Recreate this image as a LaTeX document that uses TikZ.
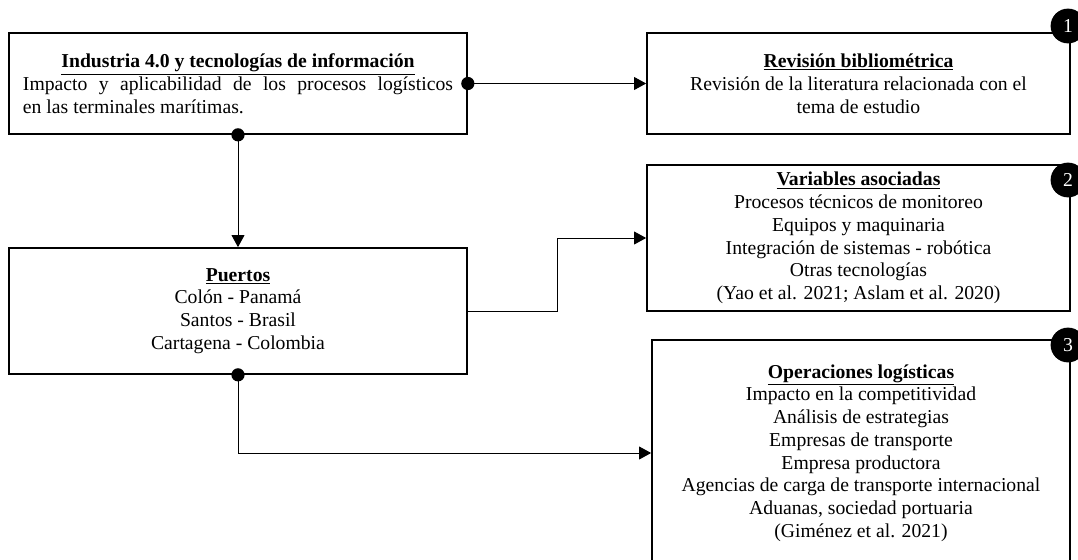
\documentclass[tikz,border=0pt]{standalone}
\usepackage{fontspec}
\setmainfont{Liberation Serif}
\usetikzlibrary{arrows.meta}

\begin{document}
\begin{tikzpicture}[
    box/.style={draw, rectangle, line width=1.2pt, font=\fontsize{14}{16.2}\selectfont, align=center},
    conn/.style={line width=0.7pt, -{Triangle[length=0.3cm, width=0.32cm]}},
    badge/.style={circle, fill=black, text=white, minimum size=0.87cm, inner sep=0pt, font=\fontsize{14}{16}\selectfont}
]

    % Page size
    \useasboundingbox[fill=white] (0,0) rectangle (26.95,-14);

    % Draw the left boxes
    \node[box, minimum width=11.45cm, minimum height=2.525cm, text width=10.75cm, align=justify] (industria) at (5.95,-2.0875) {{\centering\textbf{\underline{Industria 4.0 y tecnologías de información}}\par}Impacto y aplicabilidad de los procesos logísticos\linebreak en las terminales marítimas.};
    \node[box, minimum width=11.45cm, minimum height=3.15cm] (puertos) at (5.95,-7.775) {\textbf{\underline{Puertos}}\\Colón - Panamá\\Santos - Brasil\\Cartagena - Colombia};

    % Draw the right boxes
    \node[box, minimum width=10.575cm, minimum height=2.525cm] (revision) at (21.4625,-2.0875) {\textbf{\underline{Revisión bibliométrica}}\\Revisión de la literatura relacionada con el\\tema de estudio};
    \node[box, minimum width=10.575cm, minimum height=3.65cm] (variables) at (21.4625,-5.95) {\textbf{\underline{Variables asociadas}}\\Procesos técnicos de monitoreo\\Equipos y maquinaria\\Integración de sistemas - robótica\\Otras tecnologías\\(Yao et al. 2021; Aslam et al. 2020)};
    \node[box, minimum width=10.45cm, minimum height=5.65cm] (operaciones) at (21.525,-11.325) {\textbf{\underline{Operaciones logísticas}}\\Impacto en la competitividad\\Análisis de estrategias\\Empresas de transporte\\Empresa productora\\Agencias de carga de transporte internacional\\Aduanas, sociedad portuaria\\(Giménez et al. 2021)};

    % Draw the numbers
    \node[badge] (num1) at (26.7,-0.65) {1};
    \node[badge] (num2) at (26.7,-4.5) {2};
    \node[badge] (num3) at (26.7,-8.625) {3};

    % Draw connections
    \coordinate (bend) at (13.925,0);
    \draw[conn] (industria.east) -- (industria.east -| revision.west);
    \draw[conn] (industria.south) -- (puertos.north);
    \draw[conn] (puertos.east) -- (puertos.east -| bend) |- (variables.west);
    \draw[conn] (puertos.south) |- (operaciones.west);
    \fill (industria.east) circle (0.165);
    \fill (industria.south) circle (0.165);
    \fill (puertos.south) circle (0.165);

\end{tikzpicture}
\end{document}
